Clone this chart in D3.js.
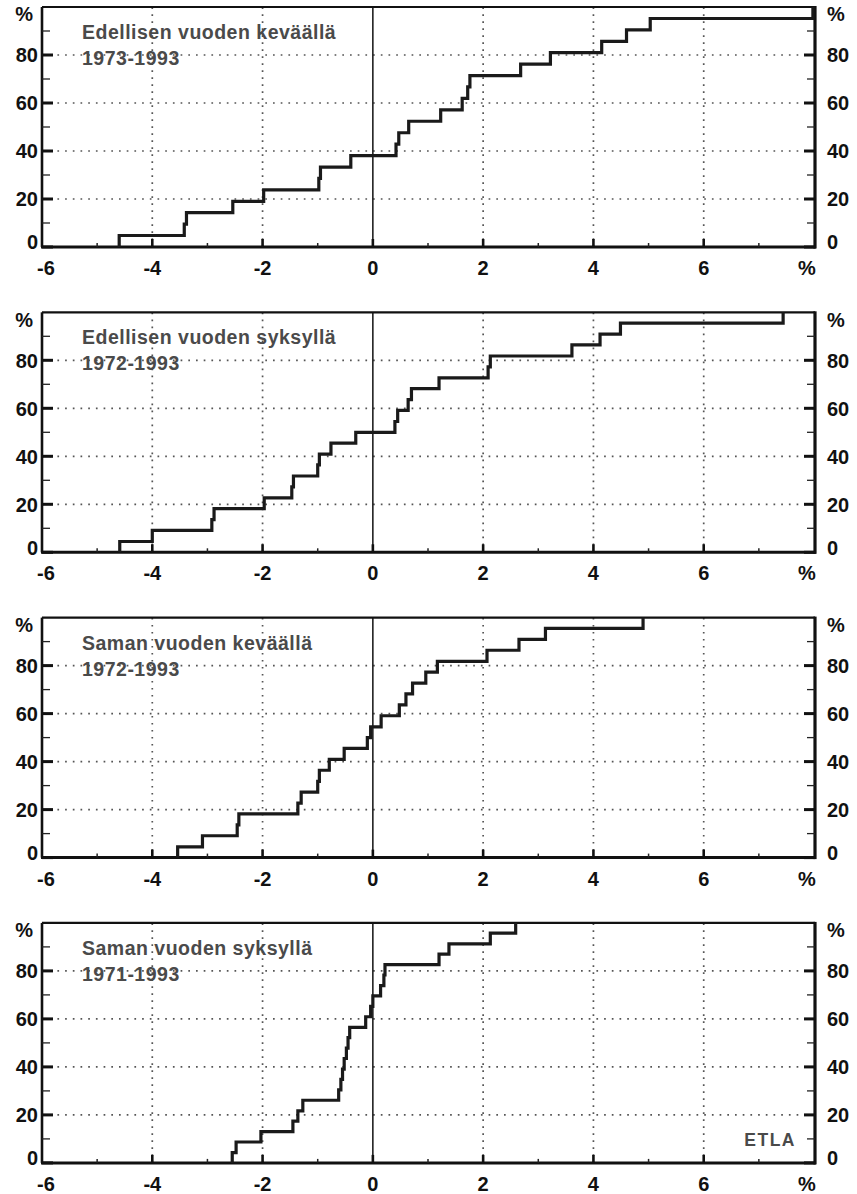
<!DOCTYPE html>
<html lang="fi">
  <head>
    <meta charset="UTF-8" />
    <title>Ennustevirheiden jakaumat</title>
    <script src="https://d3js.org/d3.v7.min.js"></script>
    <style>
      body { margin: 0; background: #fff; }
      svg { display: block; }
      text { font-family: "Liberation Sans", Arial, sans-serif; font-weight: bold; }
    </style>
  </head>
  <body>
    <svg></svg>
    <script>
      // tick values and labels
      const xTicks = [-6, -4, -2, 0, 2, 4, 6, 8];
      const xTickLabels = ["-6", "-4", "-2", "0", "2", "4", "6", "%"];
      const xMinorTicks = [-5, -3, -1, 1, 3, 5, 7];
      const yTicks = [0, 20, 40, 60, 80, 100];
      const yTickLabels = ["0", "20", "40", "60", "80", "%"];
      const yMinorTicks = [10, 30, 50, 70, 90];

      const panelTitles = [
        "Edellisen vuoden keväällä",
        "Edellisen vuoden syksyllä",
        "Saman vuoden keväällä",
        "Saman vuoden syksyllä",
      ];
      const panelYears = ["1973-1993", "1972-1993", "1972-1993", "1971-1993"];

      // step positions (error, %) and cumulative share after each step (%)
      const errors1 = [-4.6, -3.42, -3.38, -2.54, -1.98, -0.98, -0.95, -0.4, 0.42, 0.47, 0.65,
        1.23, 1.62, 1.72, 1.76, 2.68, 3.22, 4.15, 4.6, 5.03, 7.98];
      const share1 = [4.8, 9.5, 14.3, 19.0, 23.8, 28.6, 33.3, 38.1, 42.9, 47.6, 52.4,
        57.1, 61.9, 66.7, 71.4, 76.2, 81.0, 85.7, 90.5, 95.2, 100];

      const errors2 = [-4.59, -4.0, -2.92, -2.88, -1.97, -1.47, -1.44, -1.0, -0.97, -0.76, -0.31,
        0.4, 0.45, 0.64, 0.7, 1.2, 2.09, 2.13, 3.61, 4.12, 4.49, 7.44];
      const share2 = [4.5, 9.1, 13.6, 18.2, 22.7, 27.3, 31.8, 36.4, 40.9, 45.5, 50.0,
        54.5, 59.1, 63.6, 68.2, 72.7, 77.3, 81.8, 86.4, 90.9, 95.5, 100];

      const errors3 = [-3.54, -3.09, -2.46, -2.43, -1.36, -1.3, -1.0, -0.97, -0.79, -0.52, -0.1,
        -0.04, 0.15, 0.48, 0.6, 0.72, 0.96, 1.17, 2.07, 2.65, 3.13, 4.9];
      const share3 = [4.5, 9.1, 13.6, 18.2, 22.7, 27.3, 31.8, 36.4, 40.9, 45.5, 50.0,
        54.5, 59.1, 63.6, 68.2, 72.7, 77.3, 81.8, 86.4, 90.9, 95.5, 100];

      const errors4 = [-2.55, -2.48, -2.03, -1.45, -1.36, -1.27, -0.62, -0.58, -0.55, -0.52, -0.48,
        -0.45, -0.42, -0.13, -0.04, 0.0, 0.14, 0.2, 0.22, 1.2, 1.38, 2.13, 2.59];
      const share4 = [4.3, 8.7, 13.0, 17.4, 21.7, 26.1, 30.4, 34.8, 39.1, 43.5, 47.8,
        52.2, 56.5, 60.9, 65.2, 69.6, 73.9, 78.3, 82.6, 87.0, 91.3, 95.7, 100];

      const allErrors = [errors1, errors2, errors3, errors4];
      const allShares = [share1, share2, share3, share4];

      const width = 857, height = 1194;
      const svg = d3.select("svg").attr("width", width).attr("height", height);

      const left = 42, right = 814, plotH = 240;
      const x = d3.scaleLinear().domain([-6, 8]).range([left, right]);

      const stepLine = d3.line()
        .x((d) => x(d[0]))
        .curve(d3.curveStepAfter);

      panelTitles.forEach((title, i) => {
        const top = 7 + i * 305.3;
        const y = d3.scaleLinear().domain([0, 100]).range([top + plotH, top]);
        const g = svg.append("g");

        // dotted grid
        g.selectAll(".vgrid")
          .data(xTicks.filter((t) => t != 0 && t > -6 && t < 8))
          .enter()
          .append("line")
          .attr("x1", (d) => x(d)).attr("x2", (d) => x(d))
          .attr("y1", y(0)).attr("y2", y(100))
          .attr("stroke", "#555").attr("stroke-width", 1.7)
          .attr("stroke-dasharray", "1.7,5.3");
        g.selectAll(".hgrid")
          .data(yTicks.filter((t) => t > 0 && t < 100))
          .enter()
          .append("line")
          .attr("x1", x(-6)).attr("x2", x(8))
          .attr("y1", (d) => y(d)).attr("y2", (d) => y(d))
          .attr("stroke", "#555").attr("stroke-width", 1.7)
          .attr("stroke-dasharray", "1.7,6");

        // zero line
        g.append("line")
          .attr("x1", x(0)).attr("x2", x(0))
          .attr("y1", y(0)).attr("y2", y(100))
          .attr("stroke", "#111").attr("stroke-width", 1.5);

        // frame
        g.append("line").attr("x1", x(-6)).attr("x2", x(8) + 1)
          .attr("y1", y(100)).attr("y2", y(100))
          .attr("stroke", "#111").attr("stroke-width", 2.2);
        g.append("line").attr("x1", x(-6) - 1).attr("x2", x(8) + 2)
          .attr("y1", y(0)).attr("y2", y(0))
          .attr("stroke", "#111").attr("stroke-width", 3);
        g.append("line").attr("x1", x(-6)).attr("x2", x(-6))
          .attr("y1", y(100)).attr("y2", y(0))
          .attr("stroke", "#111").attr("stroke-width", 2.6);
        g.append("line").attr("x1", x(8) + 1).attr("x2", x(8) + 1)
          .attr("y1", y(100) - 1).attr("y2", y(0) + 1.5)
          .attr("stroke", "#111").attr("stroke-width", 3.2);

        // y ticks, both sides, pointing inward
        const yMajor = yTicks.filter((t) => t < 100);
        [[x(-6), 1], [x(8) + 1, -1]].forEach(([x0, dir]) => {
          g.selectAll(null).data(yMajor).enter().append("line")
            .attr("x1", x0).attr("x2", x0 + dir * 11)
            .attr("y1", (d) => y(d)).attr("y2", (d) => y(d))
            .attr("stroke", "#111").attr("stroke-width", 3);
          g.selectAll(null).data(yMinorTicks).enter().append("line")
            .attr("x1", x0).attr("x2", x0 + dir * 8)
            .attr("y1", (d) => y(d)).attr("y2", (d) => y(d))
            .attr("stroke", "#222").attr("stroke-width", 1.3);
        });

        // x ticks
        g.selectAll(null).data(xTicks.filter((t) => t > -6 && t < 8)).enter().append("line")
          .attr("x1", (d) => x(d)).attr("x2", (d) => x(d))
          .attr("y1", y(0)).attr("y2", y(0) - 8)
          .attr("stroke", "#111").attr("stroke-width", 2.6);
        g.selectAll(null).data(xMinorTicks).enter().append("line")
          .attr("x1", (d) => x(d)).attr("x2", (d) => x(d))
          .attr("y1", y(0)).attr("y2", y(0) - 4)
          .attr("stroke", "#222").attr("stroke-width", 1.5);

        // y labels
        const yShift = (t) => (t == 0 ? -5 : t == 100 ? 7 : 0);
        g.selectAll(null).data(yTicks).enter().append("text")
          .attr("x", (d) => (d == 100 ? 33 : 38))
          .attr("y", (d) => y(d) + yShift(d))
          .attr("dy", "0.36em")
          .attr("text-anchor", "end")
          .attr("font-size", 20).attr("fill", "#111")
          .text((d, j) => yTickLabels[j]);
        g.selectAll(null).data(yTicks).enter().append("text")
          .attr("x", 827)
          .attr("y", (d) => y(d) + yShift(d))
          .attr("dy", "0.36em")
          .attr("text-anchor", "start")
          .attr("font-size", 20).attr("fill", "#111")
          .text((d, j) => yTickLabels[j]);

        // x labels
        g.selectAll(null).data(xTicks).enter().append("text")
          .attr("x", (d) => x(d) + (d == -6 ? 4 : d == 8 ? -7 : 0))
          .attr("y", y(0) + 28)
          .attr("text-anchor", "middle")
          .attr("font-size", 20).attr("fill", "#111")
          .text((d, j) => xTickLabels[j]);

        // panel title
        g.append("text").attr("x", 82).attr("y", top + 32)
          .attr("font-size", 19.5).attr("letter-spacing", 0.5).attr("fill", "#4a4a4a")
          .text(title);
        g.append("text").attr("x", 82).attr("y", top + 58)
          .attr("font-size", 19.5).attr("letter-spacing", 0.5).attr("fill", "#4a4a4a")
          .text(panelYears[i]);

        // cumulative step line
        const errs = allErrors[i], shares = allShares[i];
        const pts = [[errs[0], 0]].concat(errs.map((e, j) => [e, shares[j]]));
        g.append("path")
          .datum(pts)
          .attr("d", stepLine.y((d) => y(d[1])))
          .attr("fill", "none")
          .attr("stroke", "#1a1a1a")
          .attr("stroke-width", 3.2)
          .attr("stroke-linejoin", "miter");

        if (i == 3) {
          g.append("text").attr("x", 796).attr("y", y(0) - 17)
            .attr("text-anchor", "end")
            .attr("font-size", 17.5).attr("letter-spacing", 1.5).attr("fill", "#4a4a4a")
            .text("ETLA");
        }
      });
    </script>
  </body>
</html>
